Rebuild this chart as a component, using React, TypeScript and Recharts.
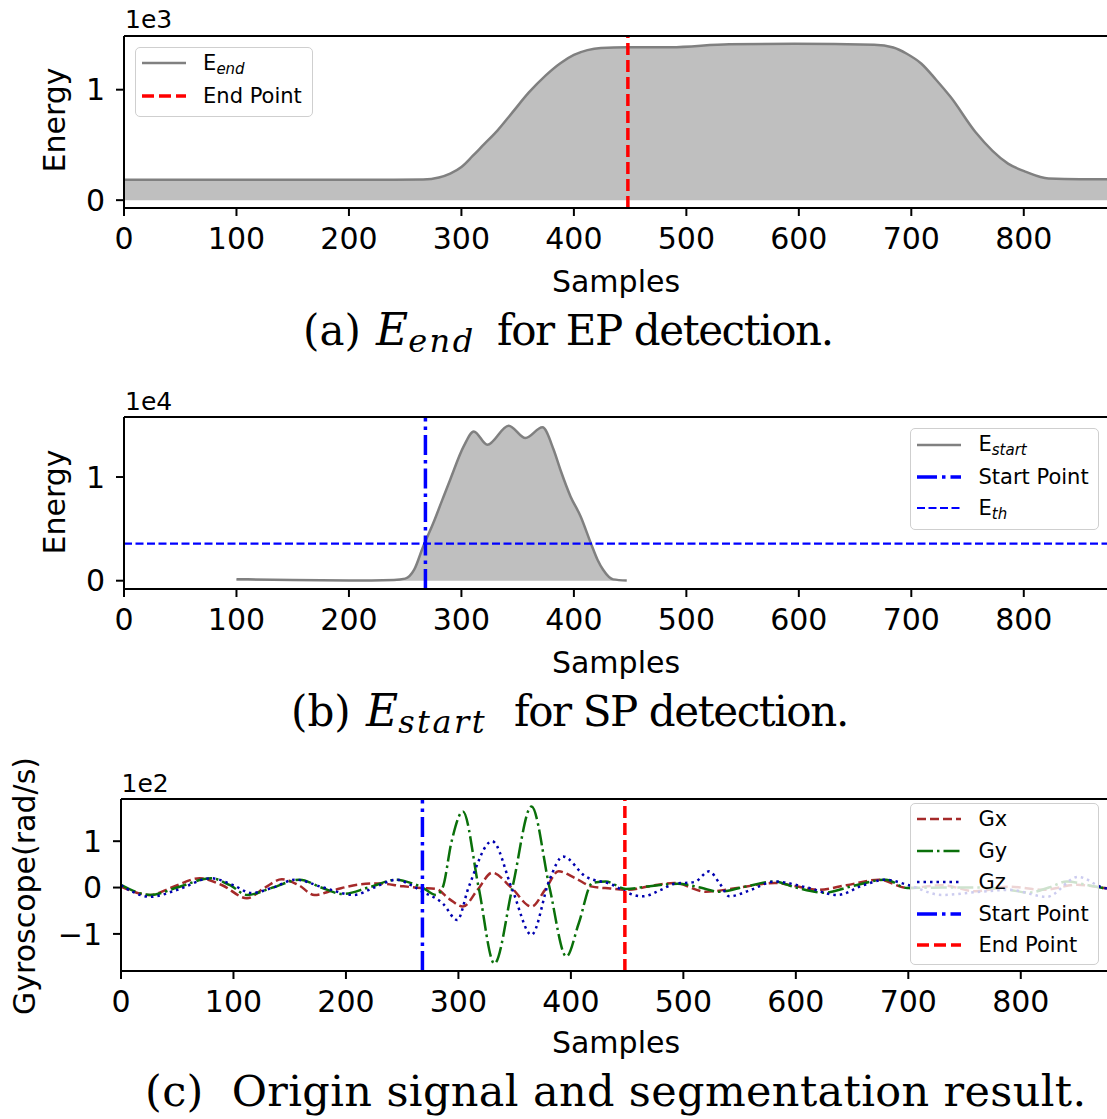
import React from 'react';
import { ComposedChart, Area, Line, XAxis, YAxis, ReferenceLine } from 'recharts';

// shared x axis (sample index)
const sampleTicks = [0, 100, 200, 300, 400, 500, 600, 700, 800];
const startPoint = 268;
const endPoint = 448;
const energyThreshold = 3570;

// (a) E_end
const endSamples = [0, 60, 120, 180, 240, 266, 280, 290, 300, 310, 320, 332, 345, 360, 375, 388, 400, 412, 424, 447, 486, 538, 596, 667, 684, 696, 709, 722, 735, 757, 786, 802, 822, 850, 890];
const endEnergy = [185, 185, 185, 185, 185, 187, 205, 240, 300, 400, 505, 630, 790, 975, 1130, 1240, 1315, 1358, 1378, 1385, 1385, 1412, 1415, 1406, 1382, 1325, 1235, 1090, 933, 617, 331, 256, 196, 190, 190];

// (b) E_start
const startSamples = [100, 150, 200, 240, 250, 258, 266, 275, 283, 290, 302, 311, 323, 342, 357, 372, 382, 388, 397, 406, 415, 421, 426, 435, 447];
const startEnergy = [150, 60, 30, 80, 200, 1060, 3300, 5560, 7800, 9740, 12950, 14400, 13115, 14950, 13760, 14790, 12630, 10700, 8130, 6200, 3640, 2025, 1060, 130, 20];

// (c) gyroscope, rad/s
const gxSamples = [0, 26, 45, 70, 90, 112, 128, 143, 158, 172, 190, 210, 229, 250, 267, 280, 292, 304, 317, 330, 347, 365, 377, 389, 404, 419, 435, 451, 470, 492, 520, 550, 581, 600, 619, 645, 674, 699, 730, 760, 790, 820, 850, 874, 890];
const gxValues = [2, -16, 0, 20, 5, -23, 0, 18, 5, -16, -5, 6, 9, 3, -1, -3, -25, -41, -5, 32, 0, -41, -5, 35, 20, 2, -2, -5, 3, 10, -9, 0, 10, 3, -5, 5, 17, -1, 5, -8, 2, -5, 6, -1, -5];
const gySamples = [0, 26, 50, 80, 97, 112, 135, 159, 178, 197, 220, 245, 260, 268, 280, 286, 294, 304, 318, 332, 348, 365, 381, 396, 407, 419, 431, 449, 470, 495, 515, 532, 555, 581, 600, 625, 650, 680, 699, 730, 760, 790, 807, 825, 841, 860, 874, 890];
const gyValues = [6, -16, 0, 20, 5, -16, 0, 17, 0, -14, 0, 17, 8, 0, -16, 0, 100, 164, 0, -164, 0, 175, 0, -149, -77, 10, 13, -3, 3, 8, 0, -9, 2, 13, 0, -11, 3, 17, -1, 0, 0, -5, -11, 0, 13, 5, -1, -5];
const gzSamples = [0, 26, 50, 80, 100, 116, 135, 155, 180, 207, 225, 245, 258, 268, 286, 299, 309, 330, 348, 365, 381, 393, 413, 437, 451, 464, 480, 492, 510, 523, 532, 541, 560, 581, 610, 637, 660, 680, 699, 730, 760, 790, 823, 851, 874, 890];
const gzValues = [5, -20, -5, 20, 5, -12, 0, 17, 0, -16, 0, 17, 5, -9, -34, -70, 0, 100, -5, -102, 17, 67, 24, 6, -12, -19, -5, 8, 12, 35, 10, -19, -5, 13, 0, -16, 5, 17, 6, -16, -10, -5, -20, 23, -1, -5];

const zip = (xs: number[], ys: number[]) => xs.map((x, i) => ({ x, y: ys[i] }));

const endData = zip(endSamples, endEnergy);
const startData = zip(startSamples, startEnergy);
const gxData = zip(gxSamples, gxValues);
const gyData = zip(gySamples, gyValues);
const gzData = zip(gzSamples, gzValues);

const FONT = 'DejaVu Sans';
const SERIF = 'DejaVu Serif';
const tickStyle = { fill: '#000', fontSize: 30, fontFamily: FONT };
const spine = { stroke: '#000', strokeWidth: 2 };

const RED_DASH = '12 5';
const START_DASH = '20 5 3.5 5';
const TH_DASH = '8 3.5';
const GX_DASH = '9 4';
const GY_DASH = '16 4 2.5 4';
const GZ_DASH = '2.5 4';

const CHART_W = 1125;
const CHART_H = 260;
const X_MAX = 890;

const aDomain = [-71, 1486];
const bDomain = [-800, 15790];
const cDomain = [-180, 191];

type Entry = { label: React.ReactNode; color: string; width: number; dash?: string };

function LegendBox({ x, y, w, h, rows, entries }: { x: number; y: number; w: number; h: number; rows: number[]; entries: Entry[] }) {
  return (
    <div
      style={{
        position: 'absolute', left: x, top: y, width: w, height: h, boxSizing: 'border-box',
        border: '1.5px solid #cfcfcf', borderRadius: 5, background: 'rgba(255,255,255,0.8)',
        fontFamily: FONT, fontSize: 21, color: '#000',
      }}
    >
      {entries.map((e, i) => (
        <React.Fragment key={i}>
          <svg style={{ position: 'absolute', left: 6, top: rows[i] - 6 }} width={45} height={12}>
            <line x1={0} y1={6} x2={44} y2={6} stroke={e.color} strokeWidth={e.width} strokeDasharray={e.dash} />
          </svg>
          <div style={{ position: 'absolute', left: 67.5, top: rows[i] - 10.1, lineHeight: '21px', whiteSpace: 'nowrap' }}>{e.label}</div>
        </React.Fragment>
      ))}
    </div>
  );
}

const sub = (s: string) => (
  <span style={{ fontSize: 15, fontStyle: 'italic', position: 'relative', top: 4 }}>{s}</span>
);

// caption with a math symbol E_sub, pieces placed at measured x positions
function MathCaption({ y, tag, tagX, eX, subText, rest, restX }: { y: number; tag: string; tagX: number; eX: number; subText: string; rest: string; restX: number }) {
  return (
    <g fontFamily={SERIF} fontSize={42}>
      <text x={tagX} y={y}>{tag}</text>
      <text x={eX} y={y} fontStyle="italic" fontSize={44}>
        E<tspan fontSize={32} dy={7} letterSpacing={2.5}>{subText}</tspan>
      </text>
      <text x={restX} y={y} letterSpacing={-1.4}>{rest}</text>
    </g>
  );
}

export default function App() {
  return (
    <div style={{ position: 'absolute', left: 0, top: 0, width: 1107, height: 1119, overflow: 'hidden', background: '#fff' }}>
      {/* (a) */}
      <div style={{ position: 'absolute', left: 0, top: 0 }}>
        <ComposedChart width={CHART_W} height={CHART_H} margin={{ top: 36, right: 0, bottom: 0, left: 0 }}>
          <XAxis type="number" dataKey="x" domain={[0, X_MAX]} allowDataOverflow ticks={sampleTicks} interval={0}
            height={52} tickSize={8} tickMargin={12} tick={tickStyle} tickLine={spine} axisLine={spine} />
          <YAxis type="number" dataKey="y" domain={aDomain} allowDataOverflow ticks={[0, 1000]} interval={0}
            width={124} tickSize={8} tickMargin={11} tick={tickStyle} tickLine={spine} axisLine={spine}
            tickFormatter={(v: number) => String(v / 1000)} />
          <Area data={endData} dataKey="y" type="monotone" baseValue={0} stroke="#808080" strokeWidth={2.5}
            fill="#bfbfbf" fillOpacity={1} dot={false} activeDot={false} isAnimationActive={false} />
          <ReferenceLine x={endPoint} stroke="#ff0000" strokeWidth={3.5} strokeDasharray={RED_DASH} />
          <ReferenceLine y={aDomain[1]} stroke="#000" strokeWidth={2} />
        </ComposedChart>
      </div>

      {/* (b) */}
      <div style={{ position: 'absolute', left: 0, top: 381.3 }}>
        <ComposedChart width={CHART_W} height={CHART_H} margin={{ top: 36, right: 0, bottom: 0, left: 0 }}>
          <XAxis type="number" dataKey="x" domain={[0, X_MAX]} allowDataOverflow ticks={sampleTicks} interval={0}
            height={52} tickSize={8} tickMargin={12} tick={tickStyle} tickLine={spine} axisLine={spine} />
          <YAxis type="number" dataKey="y" domain={bDomain} allowDataOverflow ticks={[0, 10000]} interval={0}
            width={124} tickSize={8} tickMargin={11} tick={tickStyle} tickLine={spine} axisLine={spine}
            tickFormatter={(v: number) => String(v / 10000)} />
          <Area data={startData} dataKey="y" type="monotone" baseValue={0} stroke="#808080" strokeWidth={2.5}
            fill="#bfbfbf" fillOpacity={1} dot={false} activeDot={false} isAnimationActive={false} />
          <ReferenceLine y={energyThreshold} stroke="#0000ff" strokeWidth={2.2} strokeDasharray={TH_DASH} />
          <ReferenceLine x={startPoint} stroke="#0000ff" strokeWidth={3.5} strokeDasharray={START_DASH} />
          <ReferenceLine y={bDomain[1]} stroke="#000" strokeWidth={2} />
        </ComposedChart>
      </div>

      {/* (c) */}
      <div style={{ position: 'absolute', left: -3.5, top: 763.3 }}>
        <ComposedChart width={CHART_W} height={CHART_H} margin={{ top: 36, right: 0, bottom: 0, left: 0 }}>
          <XAxis type="number" dataKey="x" domain={[0, X_MAX]} allowDataOverflow ticks={sampleTicks} interval={0}
            height={52} tickSize={8} tickMargin={12} tick={tickStyle} tickLine={spine} axisLine={spine} />
          <YAxis type="number" dataKey="y" domain={cDomain} allowDataOverflow ticks={[-100, 0, 100]} interval={0}
            width={124} tickSize={8} tickMargin={11} tick={tickStyle} tickLine={spine} axisLine={spine}
            tickFormatter={(v: number) => (v < 0 ? '\u2212' + String(-v / 100) : String(v / 100))} />
          <Line data={gxData} dataKey="y" type="monotone" stroke="#a52a2a" strokeWidth={2.5} strokeDasharray={GX_DASH}
            dot={false} activeDot={false} isAnimationActive={false} />
          <Line data={gyData} dataKey="y" type="monotone" stroke="#0a700a" strokeWidth={2.5} strokeDasharray={GY_DASH}
            dot={false} activeDot={false} isAnimationActive={false} />
          <Line data={gzData} dataKey="y" type="monotone" stroke="#0000b0" strokeWidth={2.5} strokeDasharray={GZ_DASH}
            dot={false} activeDot={false} isAnimationActive={false} />
          <ReferenceLine x={startPoint} stroke="#0000ff" strokeWidth={3.5} strokeDasharray={START_DASH} />
          <ReferenceLine x={endPoint} stroke="#ff0000" strokeWidth={3.5} strokeDasharray={RED_DASH} />
          <ReferenceLine y={cDomain[1]} stroke="#000" strokeWidth={2} />
        </ComposedChart>
      </div>

      {/* texts: offsets, axis labels, captions */}
      <svg width={1107} height={1119} style={{ position: 'absolute', left: 0, top: 0, pointerEvents: 'none' }} fontFamily={FONT}>
        <text x={125} y={28} fontSize={25}>1e3</text>
        <text x={125} y={410} fontSize={25}>1e4</text>
        <text x={121.5} y={791.7} fontSize={25}>1e2</text>

        <text transform="translate(65,120) rotate(-90)" textAnchor="middle" fontSize={30}>Energy</text>
        <text transform="translate(65,502) rotate(-90)" textAnchor="middle" fontSize={30}>Energy</text>
        <text transform="translate(35.2,886) rotate(-90)" textAnchor="middle" fontSize={30}>Gyroscope(rad/s)</text>

        <text x={616} y={292} textAnchor="middle" fontSize={30}>Samples</text>
        <text x={616} y={673} textAnchor="middle" fontSize={30}>Samples</text>
        <text x={616} y={1053} textAnchor="middle" fontSize={30}>Samples</text>

        <MathCaption y={345} tag="(a)" tagX={303} eX={376} subText="end" rest="for EP detection." restX={497} />
        <MathCaption y={726} tag="(b)" tagX={291} eX={366} subText="start" rest="for SP detection." restX={514} />
        <text x={145} y={1106} fontFamily={SERIF} fontSize={43} letterSpacing={0.35}>
          (c){'\u00a0\u00a0'}Origin signal and segmentation result.
        </text>
      </svg>

      <LegendBox x={134.6} y={46.7} w={178} h={70.6} rows={[15.3, 48.8]}
        entries={[
          { label: <>E{sub('end')}</>, color: '#808080', width: 2.5 },
          { label: 'End Point', color: '#ff0000', width: 3.5, dash: RED_DASH },
        ]} />
      <LegendBox x={910} y={428} w={189} h={102} rows={[15.5, 48.2, 78.8]}
        entries={[
          { label: <>E{sub('start')}</>, color: '#808080', width: 2.5 },
          { label: 'Start Point', color: '#0000ff', width: 3.5, dash: START_DASH },
          { label: <>E{sub('th')}</>, color: '#0000ff', width: 2.2, dash: TH_DASH },
        ]} />
      <LegendBox x={910} y={803.3} w={189} h={162} rows={[15.2, 46.7, 78.2, 109.7, 141.2]}
        entries={[
          { label: 'Gx', color: '#a52a2a', width: 2.5, dash: GX_DASH },
          { label: 'Gy', color: '#0a700a', width: 2.5, dash: GY_DASH },
          { label: 'Gz', color: '#0000b0', width: 2.5, dash: GZ_DASH },
          { label: 'Start Point', color: '#0000ff', width: 3.5, dash: START_DASH },
          { label: 'End Point', color: '#ff0000', width: 3.5, dash: RED_DASH },
        ]} />
    </div>
  );
}
